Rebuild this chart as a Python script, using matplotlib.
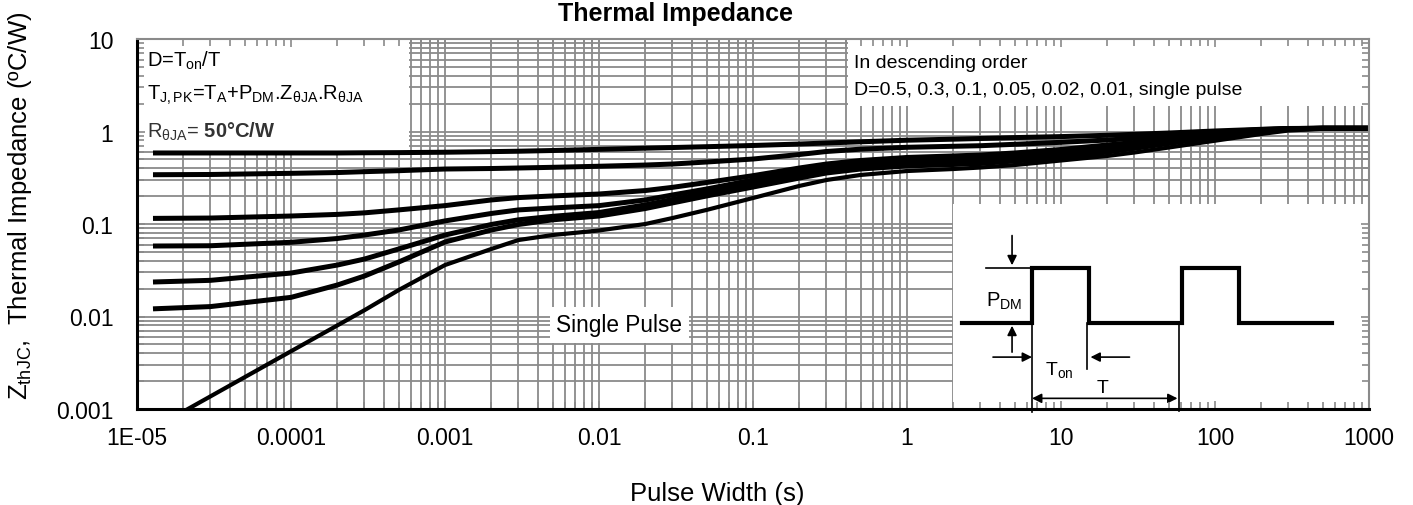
import numpy as np
import matplotlib
matplotlib.use("Agg")
import matplotlib.pyplot as plt
from matplotlib.patches import Rectangle
from matplotlib.ticker import FixedLocator, LogLocator, NullFormatter

plt.rcParams['font.family'] = ['Liberation Sans', 'DejaVu Sans']
plt.rcParams['mathtext.fontset'] = 'custom'
plt.rcParams['mathtext.rm'] = 'Liberation Sans'
plt.rcParams['mathtext.it'] = 'Liberation Sans:italic'
plt.rcParams['mathtext.bf'] = 'Liberation Sans:bold'

# --- data ---
pulse_width = [1.27e-5, 3e-5, 1e-4, 2e-4, 3e-4, 5e-4, 1e-3, 2e-3, 3e-3, 5e-3,
               1e-2, 2e-2, 3e-2, 5e-2, 0.1, 0.2, 0.3, 0.5, 1, 2, 3, 5,
               10, 20, 30, 50, 100, 200, 300, 500, 1000]
z_d050 = [0.586, 0.586, 0.586, 0.586, 0.589, 0.591, 0.597, 0.606, 0.612, 0.623,
          0.641, 0.660, 0.671, 0.685, 0.706, 0.732, 0.751, 0.774, 0.805, 0.826,
          0.840, 0.859, 0.881, 0.910, 0.933, 0.963, 1.013, 1.056, 1.075, 1.083, 1.083]
z_d030 = [0.341, 0.343, 0.353, 0.360, 0.368, 0.377, 0.393, 0.398, 0.403, 0.410,
          0.421, 0.434, 0.445, 0.468, 0.504, 0.564, 0.608, 0.644, 0.675, 0.692,
          0.702, 0.727, 0.764, 0.809, 0.844, 0.894, 0.980, 1.051, 1.078, 1.083, 1.083]
z_d010 = [0.115, 0.116, 0.122, 0.127, 0.132, 0.142, 0.158, 0.182, 0.193, 0.201,
          0.211, 0.230, 0.249, 0.281, 0.333, 0.403, 0.445, 0.486, 0.524, 0.544,
          0.557, 0.586, 0.639, 0.715, 0.761, 0.830, 0.940, 1.038, 1.075, 1.083, 1.083]
z_d005 = [0.0578, 0.0582, 0.0634, 0.0697, 0.0760, 0.0861, 0.108, 0.130, 0.142, 0.149,
          0.158, 0.182, 0.206, 0.239, 0.299, 0.369, 0.413, 0.451, 0.486, 0.504,
          0.517, 0.550, 0.600, 0.671, 0.724, 0.799, 0.917, 1.025, 1.070, 1.083, 1.083]
z_d002 = [0.0236, 0.0246, 0.0295, 0.0360, 0.0418, 0.0537, 0.0760, 0.0988, 0.111, 0.121,
          0.133, 0.161, 0.184, 0.216, 0.271, 0.339, 0.384, 0.418, 0.451, 0.468,
          0.480, 0.511, 0.557, 0.631, 0.688, 0.770, 0.894, 1.013, 1.064, 1.083, 1.083]
z_d001 = [0.0121, 0.0128, 0.0161, 0.0219, 0.0274, 0.0388, 0.0639, 0.0861, 0.0988, 0.111,
          0.122, 0.147, 0.169, 0.201, 0.251, 0.314, 0.356, 0.393, 0.424, 0.440,
          0.451, 0.480, 0.524, 0.600, 0.658, 0.742, 0.872, 1.000, 1.059, 1.083, 1.083]
z_single = [0.000614, 0.00137, 0.00421, 0.00801, 0.0117, 0.0193, 0.0360, 0.0537, 0.0671, 0.0760,
            0.0851, 0.100, 0.116, 0.142, 0.191, 0.258, 0.299, 0.339, 0.374, 0.393,
            0.408, 0.434, 0.486, 0.544, 0.593, 0.671, 0.795, 0.940, 1.025, 1.070, 1.083]
curves = [z_d050, z_d030, z_d010, z_d005, z_d002, z_d001]

x_ticks = [1e-5, 1e-4, 1e-3, 1e-2, 0.1, 1, 10, 100, 1000]
x_tick_labels = ['1E-05', '0.0001', '0.001', '0.01', '0.1', '1', '10', '100', '1000']
y_ticks = [0.001, 0.01, 0.1, 1, 10]
y_tick_labels = ['0.001', '0.01', '0.1', '1', '10']

# schematic pulse train for the inset (time in periods, power normalised)
wave_t = [-0.467, 0, 0, 0.38, 0.38, 1.0, 1.0, 1.38, 1.38, 2.0]
wave_p = [0, 0, 1, 1, 0, 0, 1, 1, 0, 0]

GRID = '#8a8a8a'

fig = plt.figure(figsize=(14.13, 5.06), dpi=100)
rect = [137 / 1413, 96 / 506, 1232 / 1413, 370 / 506]


def setup_log(a):
    a.set_xscale('log')
    a.set_yscale('log')
    a.set_xlim(1e-5, 1000)
    a.set_ylim(1e-3, 10)
    a.xaxis.set_major_locator(FixedLocator(x_ticks))
    a.yaxis.set_major_locator(FixedLocator(y_ticks))
    a.xaxis.set_minor_locator(LogLocator(base=10, subs=np.arange(2, 10), numticks=100))
    a.yaxis.set_minor_locator(LogLocator(base=10, subs=np.arange(2, 10), numticks=100))
    a.xaxis.set_minor_formatter(NullFormatter())
    a.yaxis.set_minor_formatter(NullFormatter())


# === main axes: grid, boxes, curves ===
ax = fig.add_axes(rect)
setup_log(ax)
ax.set_axisbelow(True)
ax.grid(True, which='both', color=GRID, lw=1.3)
ax.set_xticklabels(x_tick_labels)
ax.set_yticklabels(y_tick_labels)
ax.tick_params(axis='both', which='both', length=0, labelsize=16.5)
ax.tick_params(axis='x', pad=12)
ax.tick_params(axis='y', pad=17)
for s in ax.spines.values():
    s.set_visible(False)

ax.add_patch(Rectangle((0, 0.697), 0.2208, 0.303, transform=ax.transAxes,
                       facecolor='white', edgecolor='none', zorder=1))
ax.add_patch(Rectangle((0.5771, 0.819), 0.4229, 0.181, transform=ax.transAxes,
                       facecolor='white', edgecolor='none', zorder=1))

for z in curves:
    ax.plot(pulse_width, z, color='black', lw=3.6, solid_joinstyle='round',
            solid_capstyle='butt', zorder=2)
ax.plot(pulse_width, z_single, color='black', lw=3.0, solid_joinstyle='round', zorder=2)

ax.text(0.0081, 0.927, r'D=T$_{\mathrm{on}}$/T', transform=ax.transAxes,
        fontsize=14.5, va='baseline', zorder=3)
ax.text(0.0081, 0.838,
        r'T$_{\mathrm{J,PK}}$=T$_{\mathrm{A}}$+P$_{\mathrm{DM}}$.Z$_{\mathrm{θJA}}$.R$_{\mathrm{θJA}}$',
        transform=ax.transAxes, fontsize=14.5, va='baseline', zorder=3)
ax.text(0.0081, 0.735, r'R$_{\mathrm{θJA}}$= $\mathbf{50°C/W}$', transform=ax.transAxes,
        fontsize=14.5, va='baseline', color='#333333', zorder=3)
ax.text(0.582, 0.924, 'In descending order', transform=ax.transAxes,
        fontsize=14, va='baseline', zorder=3)
ax.text(0.582, 0.8514, 'D=0.5, 0.3, 0.1, 0.05, 0.02, 0.01, single pulse',
        transform=ax.transAxes, fontsize=14, va='baseline', zorder=3)
ax.text(0.01358, 0.0081, 'Single Pulse', fontsize=16.3, ha='center', va='center',
        zorder=3, bbox=dict(boxstyle='square,pad=0.3', facecolor='white', edgecolor='none'))

# === inset: pulse train schematic ===
ax_in = fig.add_axes([953 / 1413, 96 / 506, 416 / 1413, 205 / 506])
ax_in.set_xlim(-0.5267, 2.2467)
ax_in.set_ylim(-1.5636, 2.1636)
ax_in.set_xticks([])
ax_in.set_yticks([])
for s in ax_in.spines.values():
    s.set_visible(False)
ax_in.set_facecolor('white')

ax_in.plot(wave_t, wave_p, color='black', lw=3.0, solid_joinstyle='miter')
thin = dict(color='black', lw=1.2, clip_on=False)
ax_in.plot([-0.307, 0], [1, 1], **thin)
ax_in.plot([0, 0], [0, -1.62], **thin)
ax_in.plot([0.365, 0.365], [0, -0.84], **thin)
ax_in.plot([0.98, 0.98], [0, -1.6], **thin)

arrow = dict(arrowstyle='-|>', lw=1.2, color='black', mutation_scale=14,
             shrinkA=0, shrinkB=0)
ax_in.annotate('', xy=(-0.133, 1.05), xytext=(-0.133, 1.59), arrowprops=arrow)
ax_in.annotate('', xy=(-0.133, -0.05), xytext=(-0.133, -0.53), arrowprops=arrow)
ax_in.annotate('', xy=(0, -0.62), xytext=(-0.26, -0.62), arrowprops=arrow)
ax_in.annotate('', xy=(0.39, -0.62), xytext=(0.65, -0.62), arrowprops=arrow)
ax_in.annotate('', xy=(0.0, -1.37), xytext=(0.97, -1.37),
               arrowprops=dict(arrowstyle='<|-|>', lw=1.2, color='black',
                               mutation_scale=14, shrinkA=0, shrinkB=0))

ax_in.text(-0.307, 0.31, r'P$_{\mathrm{DM}}$', fontsize=14.5, va='baseline')
ax_in.text(0.087, -0.93, r'T$_{\mathrm{on}}$', fontsize=14, va='baseline')
ax_in.text(0.433, -1.25, 'T', fontsize=14, va='baseline')

# === overlay axes: spines and inward ticks on top of everything ===
ov = fig.add_axes(rect, facecolor='none')
setup_log(ov)
ov.tick_params(which='both', direction='in', top=True, right=True,
               labelbottom=False, labelleft=False, color=GRID, width=1.2)
ov.tick_params(which='major', length=6)
ov.tick_params(which='minor', length=5)
ov.spines['left'].set_linewidth(2.2)
ov.spines['bottom'].set_linewidth(2.2)
ov.spines['top'].set_color(GRID)
ov.spines['right'].set_color(GRID)
ov.spines['top'].set_linewidth(1.5)
ov.spines['right'].set_linewidth(1.5)

# === titles / labels ===
fig.text(675 / 1413, 1 - 21 / 506, 'Thermal Impedance', fontsize=18,
         fontweight='bold', ha='center', va='baseline')
fig.text(717 / 1413, 1 - 494 / 506, 'Pulse Width (s)', fontsize=18.5,
         ha='center', va='center')
fig.text(20 / 1413, 1 - 206 / 506, r'Z$_{\mathrm{thJC}}$,  Thermal Impedance (ºC/W)',
         fontsize=18.5, rotation=90, ha='center', va='center')

fig.savefig('out.png', dpi=100)
